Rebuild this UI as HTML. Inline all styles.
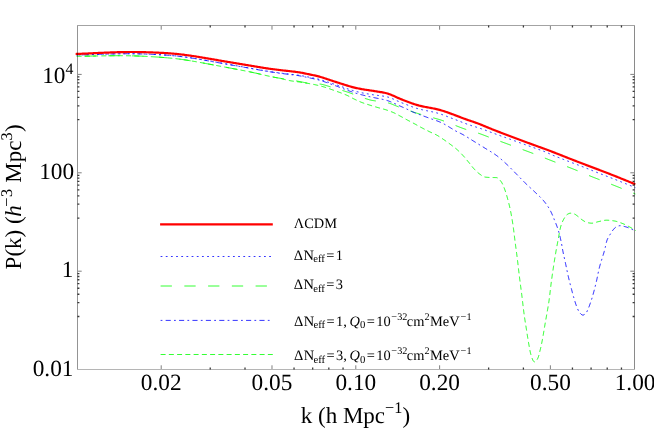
<!DOCTYPE html>
<html><head><meta charset="utf-8"><title>P(k)</title>
<style>
html,body{margin:0;padding:0;background:#fff;}
svg{display:block;font-family:"Liberation Serif",serif;will-change:transform;text-rendering:geometricPrecision;}
text{fill:#000;}
.tl{font-size:23.3px;}
.lg{font-size:14.4px;}
</style></head><body>
<svg width="654" height="429" viewBox="0 0 654 429">
<rect width="654" height="429" fill="#fff"/>
<defs><clipPath id="c"><rect x="75.3" y="25.5" width="560.4" height="344.0"/></clipPath></defs>
<g fill="none" clip-path="url(#c)">
<path d="M75.50,55.05L76.50,55.03L77.50,55.00L78.50,54.98L79.50,54.95L80.50,54.92L81.50,54.90L82.50,54.87L83.50,54.84L84.50,54.81L85.50,54.77L86.50,54.74L87.50,54.71L88.50,54.68L89.50,54.64L90.50,54.61L91.50,54.57L92.50,54.54L93.50,54.51L94.50,54.47L95.50,54.44L96.50,54.40L97.50,54.37L98.50,54.33L99.50,54.30L100.50,54.26L101.50,54.23L102.50,54.20L103.50,54.16L104.50,54.13L105.50,54.10L106.50,54.07L107.50,54.04L108.50,54.01L109.50,53.98L110.50,53.96L111.50,53.93L112.50,53.90L113.50,53.88L114.50,53.86L115.50,53.83L116.50,53.81L117.50,53.80L118.50,53.78L119.50,53.76L120.50,53.75L121.50,53.73L122.50,53.72L123.50,53.71L124.50,53.71L125.50,53.70L126.50,53.70L127.50,53.69L128.50,53.69L129.50,53.70L130.50,53.70L131.50,53.71L132.50,53.72L133.50,53.73L134.50,53.74L135.50,53.76L136.50,53.77L137.50,53.79L138.50,53.82L139.50,53.84L140.50,53.87L141.50,53.90L142.50,53.92L143.50,53.96L144.50,53.99L145.50,54.02L146.50,54.06L147.50,54.10L148.50,54.14L149.50,54.18L150.50,54.22L151.50,54.26L152.50,54.31L153.50,54.35L154.50,54.40L155.50,54.45L156.50,54.50L157.50,54.55L158.50,54.60L159.50,54.66L160.50,54.71L161.50,54.77L162.50,54.83L163.50,54.90L164.50,54.96L165.50,55.03L166.50,55.10L167.50,55.17L168.50,55.25L169.50,55.33L170.50,55.41L171.50,55.49L172.50,55.57L173.50,55.66L174.50,55.76L175.50,55.85L176.50,55.95L177.50,56.06L178.50,56.17L179.50,56.28L180.50,56.40L181.50,56.52L182.50,56.64L183.50,56.77L184.50,56.91L185.50,57.04L186.50,57.18L187.50,57.33L188.50,57.47L189.50,57.62L190.50,57.78L191.50,57.93L192.50,58.09L193.50,58.25L194.50,58.41L195.50,58.57L196.50,58.73L197.50,58.90L198.50,59.07L199.50,59.23L200.50,59.40L201.50,59.58L202.50,59.75L203.50,59.92L204.50,60.10L205.50,60.27L206.50,60.45L207.50,60.62L208.50,60.80L209.50,60.97L210.50,61.15L211.50,61.33L212.50,61.51L213.50,61.68L214.50,61.86L215.50,62.04L216.50,62.22L217.50,62.39L218.50,62.57L219.50,62.75L220.50,62.93L221.50,63.10L222.50,63.28L223.50,63.46L224.50,63.64L225.50,63.81L226.50,63.99L227.50,64.16L228.50,64.34L229.50,64.52L230.50,64.69L231.50,64.87L232.50,65.04L233.50,65.21L234.50,65.39L235.50,65.56L236.50,65.74L237.50,65.91L238.50,66.08L239.50,66.26L240.50,66.43L241.50,66.61L242.50,66.78L243.50,66.96L244.50,67.13L245.50,67.31L246.50,67.48L247.50,67.66L248.50,67.83L249.50,68.01L250.50,68.19L251.50,68.37L252.50,68.55L253.50,68.73L254.50,68.91L255.50,69.09L256.50,69.27L257.50,69.45L258.50,69.63L259.50,69.81L260.50,69.99L261.50,70.16L262.50,70.34L263.50,70.52L264.50,70.69L265.50,70.86L266.50,71.03L267.50,71.19L268.50,71.35L269.50,71.51L270.50,71.67L271.50,71.83L272.50,71.98L273.50,72.12L274.50,72.27L275.50,72.41L276.50,72.55L277.50,72.69L278.50,72.82L279.50,72.95L280.50,73.08L281.50,73.21L282.50,73.33L283.50,73.46L284.50,73.57L285.50,73.69L286.50,73.81L287.50,73.92L288.50,74.03L289.50,74.14L290.50,74.24L291.50,74.35L292.50,74.46L293.50,74.58L294.50,74.70L295.50,74.82L296.50,74.95L297.50,75.08L298.50,75.23L299.50,75.38L300.50,75.54L301.50,75.71L302.50,75.89L303.50,76.08L304.50,76.27L305.50,76.46L306.50,76.66L307.50,76.86L308.50,77.07L309.50,77.27L310.50,77.46L311.50,77.66L312.50,77.86L313.50,78.06L314.50,78.26L315.50,78.48L316.50,78.70L317.50,78.93L318.50,79.18L319.50,79.45L320.50,79.72L321.50,80.02L322.50,80.32L323.50,80.64L324.50,80.96L325.50,81.29L326.50,81.62L327.50,81.96L328.50,82.29L329.50,82.62L330.50,82.94L331.50,83.27L332.50,83.59L333.50,83.91L334.50,84.23L335.50,84.55L336.50,84.88L337.50,85.21L338.50,85.55L339.50,85.90L340.50,86.25L341.50,86.61L342.50,86.96L343.50,87.32L344.50,87.68L345.50,88.04L346.50,88.40L347.50,88.75L348.50,89.10L349.50,89.44L350.50,89.78L351.50,90.10L352.50,90.42L353.50,90.73L354.50,91.02L355.50,91.30L356.50,91.56L357.50,91.81L358.50,92.05L359.50,92.28L360.50,92.50L361.50,92.71L362.50,92.92L363.50,93.12L364.50,93.31L365.50,93.50L366.50,93.68L367.50,93.85L368.50,94.03L369.50,94.19L370.50,94.36L371.50,94.52L372.50,94.68L373.50,94.83L374.50,94.98L375.50,95.12L376.50,95.25L377.50,95.38L378.50,95.51L379.50,95.63L380.50,95.76L381.50,95.88L382.50,96.01L383.50,96.16L384.50,96.32L385.50,96.51L386.50,96.72L387.50,96.96L388.50,97.24L389.50,97.56L390.50,97.92L391.50,98.31L392.50,98.73L393.50,99.17L394.50,99.62L395.50,100.08L396.50,100.53L397.50,100.98L398.50,101.42L399.50,101.85L400.50,102.27L401.50,102.68L402.50,103.08L403.50,103.47L404.50,103.86L405.50,104.25L406.50,104.63L407.50,105.02L408.50,105.40L409.50,105.79L410.50,106.17L411.50,106.55L412.50,106.92L413.50,107.27L414.50,107.62L415.50,107.95L416.50,108.27L417.50,108.56L418.50,108.84L419.50,109.11L420.50,109.36L421.50,109.60L422.50,109.83L423.50,110.05L424.50,110.26L425.50,110.46L426.50,110.67L427.50,110.87L428.50,111.06L429.50,111.26L430.50,111.46L431.50,111.67L432.50,111.88L433.50,112.10L434.50,112.33L435.50,112.58L436.50,112.84L437.50,113.12L438.50,113.41L439.50,113.71L440.50,114.04L441.50,114.38L442.50,114.73L443.50,115.09L444.50,115.46L445.50,115.84L446.50,116.22L447.50,116.61L448.50,117.00L449.50,117.38L450.50,117.77L451.50,118.15L452.50,118.53L453.50,118.91L454.50,119.29L455.50,119.68L456.50,120.06L457.50,120.45L458.50,120.84L459.50,121.24L460.50,121.63L461.50,122.02L462.50,122.41L463.50,122.79L464.50,123.17L465.50,123.54L466.50,123.91L467.50,124.27L468.50,124.62L469.50,124.96L470.50,125.30L471.50,125.63L472.50,125.96L473.50,126.28L474.50,126.59L475.50,126.89L476.50,127.20L477.50,127.52L478.50,127.84L479.50,128.16L480.50,128.49L481.50,128.83L482.50,129.17L483.50,129.52L484.50,129.88L485.50,130.24L486.50,130.61L487.50,130.98L488.50,131.37L489.50,131.75L490.50,132.13L491.50,132.51L492.50,132.88L493.50,133.25L494.50,133.62L495.50,133.98L496.50,134.35L497.50,134.71L498.50,135.07L499.50,135.43L500.50,135.79L501.50,136.15L502.50,136.50L503.50,136.86L504.50,137.22L505.50,137.57L506.50,137.93L507.50,138.28L508.50,138.64L509.50,139.00L510.50,139.36L511.50,139.72L512.50,140.08L513.50,140.44L514.50,140.80L515.50,141.16L516.50,141.53L517.50,141.89L518.50,142.25L519.50,142.61L520.50,142.97L521.50,143.34L522.50,143.70L523.50,144.06L524.50,144.42L525.50,144.77L526.50,145.13L527.50,145.48L528.50,145.84L529.50,146.19L530.50,146.55L531.50,146.90L532.50,147.25L533.50,147.60L534.50,147.96L535.50,148.31L536.50,148.66L537.50,149.02L538.50,149.37L539.50,149.73L540.50,150.09L541.50,150.45L542.50,150.81L543.50,151.18L544.50,151.55L545.50,151.95L546.50,152.38L547.50,152.83L548.50,153.29L549.50,153.76L550.50,154.22L551.50,154.68L552.50,155.12L553.50,155.54L554.50,155.93L555.50,156.32L556.50,156.71L557.50,157.10L558.50,157.49L559.50,157.88L560.50,158.27L561.50,158.66L562.50,159.05L563.50,159.43L564.50,159.82L565.50,160.21L566.50,160.59L567.50,160.98L568.50,161.36L569.50,161.74L570.50,162.12L571.50,162.51L572.50,162.89L573.50,163.26L574.50,163.64L575.50,164.02L576.50,164.40L577.50,164.78L578.50,165.16L579.50,165.54L580.50,165.91L581.50,166.29L582.50,166.67L583.50,167.06L584.50,167.44L585.50,167.83L586.50,168.23L587.50,168.63L588.50,169.03L589.50,169.43L590.50,169.84L591.50,170.24L592.50,170.65L593.50,171.05L594.50,171.45L595.50,171.85L596.50,172.25L597.50,172.65L598.50,173.04L599.50,173.43L600.50,173.81L601.50,174.19L602.50,174.57L603.50,174.96L604.50,175.34L605.50,175.72L606.50,176.11L607.50,176.50L608.50,176.89L609.50,177.28L610.50,177.67L611.50,178.06L612.50,178.45L613.50,178.85L614.50,179.24L615.50,179.64L616.50,180.03L617.50,180.43L618.50,180.83L619.50,181.23L620.50,181.63L621.50,182.03L622.50,182.43L623.50,182.83L624.50,183.23L625.50,183.63L626.50,184.03L627.50,184.44L628.50,184.84L629.50,185.24L630.50,185.64L631.50,186.04L632.50,186.45L633.50,186.85L634.50,187.25L635.50,187.65" stroke="#0000ff" stroke-width="0.88" stroke-dasharray="1.8 3.37" stroke-dashoffset="4.27"/>
<path d="M75.50,56.30L76.50,56.29L77.50,56.28L78.50,56.27L79.50,56.26L80.50,56.25L81.50,56.24L82.50,56.23L83.50,56.21L84.50,56.20L85.50,56.18L86.50,56.16L87.50,56.15L88.50,56.13L89.50,56.11L90.50,56.09L91.50,56.08L92.50,56.06L93.50,56.04L94.50,56.02L95.50,56.00L96.50,55.98L97.50,55.96L98.50,55.94L99.50,55.92L100.50,55.91L101.50,55.89L102.50,55.87L103.50,55.85L104.50,55.84L105.50,55.82L106.50,55.80L107.50,55.79L108.50,55.78L109.50,55.76L110.50,55.75L111.50,55.74L112.50,55.73L113.50,55.72L114.50,55.71L115.50,55.71L116.50,55.70L117.50,55.70L118.50,55.70L119.50,55.70L120.50,55.70L121.50,55.70L122.50,55.71L123.50,55.71L124.50,55.72L125.50,55.73L126.50,55.74L127.50,55.76L128.50,55.77L129.50,55.79L130.50,55.81L131.50,55.83L132.50,55.86L133.50,55.88L134.50,55.91L135.50,55.94L136.50,55.98L137.50,56.01L138.50,56.05L139.50,56.09L140.50,56.13L141.50,56.17L142.50,56.22L143.50,56.27L144.50,56.32L145.50,56.37L146.50,56.42L147.50,56.47L148.50,56.52L149.50,56.58L150.50,56.64L151.50,56.69L152.50,56.75L153.50,56.81L154.50,56.88L155.50,56.94L156.50,57.01L157.50,57.07L158.50,57.14L159.50,57.21L160.50,57.28L161.50,57.36L162.50,57.43L163.50,57.51L164.50,57.59L165.50,57.68L166.50,57.76L167.50,57.85L168.50,57.94L169.50,58.03L170.50,58.12L171.50,58.22L172.50,58.32L173.50,58.43L174.50,58.53L175.50,58.64L176.50,58.76L177.50,58.88L178.50,59.00L179.50,59.13L180.50,59.26L181.50,59.40L182.50,59.54L183.50,59.68L184.50,59.83L185.50,59.98L186.50,60.13L187.50,60.29L188.50,60.45L189.50,60.62L190.50,60.78L191.50,60.95L192.50,61.12L193.50,61.29L194.50,61.47L195.50,61.64L196.50,61.82L197.50,62.00L198.50,62.17L199.50,62.35L200.50,62.53L201.50,62.72L202.50,62.90L203.50,63.08L204.50,63.27L205.50,63.45L206.50,63.64L207.50,63.82L208.50,64.01L209.50,64.20L210.50,64.38L211.50,64.57L212.50,64.76L213.50,64.95L214.50,65.13L215.50,65.32L216.50,65.51L217.50,65.70L218.50,65.88L219.50,66.07L220.50,66.26L221.50,66.45L222.50,66.64L223.50,66.82L224.50,67.01L225.50,67.20L226.50,67.39L227.50,67.58L228.50,67.77L229.50,67.95L230.50,68.14L231.50,68.33L232.50,68.52L233.50,68.71L234.50,68.90L235.50,69.08L236.50,69.27L237.50,69.46L238.50,69.66L239.50,69.85L240.50,70.04L241.50,70.23L242.50,70.42L243.50,70.62L244.50,70.81L245.50,71.01L246.50,71.20L247.50,71.40L248.50,71.60L249.50,71.80L250.50,72.00L251.50,72.21L252.50,72.42L253.50,72.64L254.50,72.86L255.50,73.08L256.50,73.31L257.50,73.54L258.50,73.77L259.50,74.00L260.50,74.23L261.50,74.47L262.50,74.70L263.50,74.94L264.50,75.17L265.50,75.40L266.50,75.63L267.50,75.85L268.50,76.07L269.50,76.29L270.50,76.50L271.50,76.71L272.50,76.92L273.50,77.11L274.50,77.31L275.50,77.50L276.50,77.68L277.50,77.86L278.50,78.03L279.50,78.20L280.50,78.37L281.50,78.53L282.50,78.70L283.50,78.87L284.50,79.03L285.50,79.20L286.50,79.36L287.50,79.52L288.50,79.68L289.50,79.83L290.50,79.99L291.50,80.15L292.50,80.31L293.50,80.47L294.50,80.64L295.50,80.81L296.50,80.98L297.50,81.15L298.50,81.33L299.50,81.52L300.50,81.72L301.50,81.92L302.50,82.12L303.50,82.33L304.50,82.54L305.50,82.75L306.50,82.96L307.50,83.13L308.50,83.28L309.50,83.39L310.50,83.48L311.50,83.54L312.50,83.59L313.50,83.63L314.50,83.66L315.50,83.70L316.50,83.74L317.50,83.80L318.50,83.88L319.50,83.98L320.50,84.12L321.50,84.29L322.50,84.50L323.50,84.74L324.50,85.02L325.50,85.32L326.50,85.63L327.50,85.94L328.50,86.25L329.50,86.56L330.50,86.86L331.50,87.16L332.50,87.46L333.50,87.76L334.50,88.06L335.50,88.36L336.50,88.67L337.50,88.97L338.50,89.28L339.50,89.58L340.50,89.89L341.50,90.21L342.50,90.52L343.50,90.83L344.50,91.14L345.50,91.45L346.50,91.76L347.50,92.06L348.50,92.39L349.50,92.74L350.50,93.11L351.50,93.49L352.50,93.88L353.50,94.28L354.50,94.68L355.50,95.08L356.50,95.48L357.50,95.87L358.50,96.26L359.50,96.63L360.50,97.00L361.50,97.35L362.50,97.68L363.50,98.00L364.50,98.30L365.50,98.59L366.50,98.89L367.50,99.20L368.50,99.51L369.50,99.80L370.50,100.07L371.50,100.30L372.50,100.48L373.50,100.63L374.50,100.77L375.50,100.91L376.50,101.05L377.50,101.18L378.50,101.31L379.50,101.43L380.50,101.56L381.50,101.68L382.50,101.82L383.50,101.96L384.50,102.12L385.50,102.30L386.50,102.51L387.50,102.74L388.50,103.00L389.50,103.31L390.50,103.64L391.50,104.01L392.50,104.39L393.50,104.80L394.50,105.21L395.50,105.63L396.50,106.04L397.50,106.45L398.50,106.85L399.50,107.23L400.50,107.60L401.50,107.96L402.50,108.31L403.50,108.66L404.50,109.01L405.50,109.35L406.50,109.69L407.50,110.04L408.50,110.38L409.50,110.73L410.50,111.08L411.50,111.43L412.50,111.77L413.50,112.11L414.50,112.44L415.50,112.76L416.50,113.07L417.50,113.38L418.50,113.68L419.50,113.98L420.50,114.27L421.50,114.56L422.50,114.84L423.50,115.13L424.50,115.41L425.50,115.68L426.50,115.96L427.50,116.24L428.50,116.51L429.50,116.78L430.50,117.06L431.50,117.33L432.50,117.61L433.50,117.88L434.50,118.16L435.50,118.44L436.50,118.72L437.50,119.01L438.50,119.29L439.50,119.59L440.50,119.90L441.50,120.23L442.50,120.57L443.50,120.92L444.50,121.28L445.50,121.64L446.50,122.02L447.50,122.40L448.50,122.78L449.50,123.17L450.50,123.56L451.50,123.95L452.50,124.34L453.50,124.73L454.50,125.12L455.50,125.51L456.50,125.90L457.50,126.30L458.50,126.69L459.50,127.08L460.50,127.46L461.50,127.84L462.50,128.21L463.50,128.58L464.50,128.93L465.50,129.27L466.50,129.60L467.50,129.92L468.50,130.23L469.50,130.52L470.50,130.82L471.50,131.11L472.50,131.39L473.50,131.68L474.50,131.98L475.50,132.28L476.50,132.59L477.50,132.91L478.50,133.24L479.50,133.59L480.50,133.94L481.50,134.31L482.50,134.68L483.50,135.06L484.50,135.44L485.50,135.82L486.50,136.21L487.50,136.59L488.50,136.98L489.50,137.36L490.50,137.73L491.50,138.11L492.50,138.48L493.50,138.85L494.50,139.22L495.50,139.59L496.50,139.95L497.50,140.31L498.50,140.68L499.50,141.04L500.50,141.40L501.50,141.77L502.50,142.13L503.50,142.49L504.50,142.86L505.50,143.23L506.50,143.60L507.50,143.97L508.50,144.34L509.50,144.71L510.50,145.08L511.50,145.45L512.50,145.82L513.50,146.19L514.50,146.57L515.50,146.94L516.50,147.31L517.50,147.68L518.50,148.05L519.50,148.42L520.50,148.79L521.50,149.16L522.50,149.53L523.50,149.90L524.50,150.27L525.50,150.64L526.50,151.01L527.50,151.37L528.50,151.74L529.50,152.11L530.50,152.48L531.50,152.86L532.50,153.24L533.50,153.62L534.50,154.01L535.50,154.39L536.50,154.78L537.50,155.17L538.50,155.56L539.50,155.95L540.50,156.34L541.50,156.74L542.50,157.13L543.50,157.53L544.50,157.92L545.50,158.32L546.50,158.71L547.50,159.10L548.50,159.50L549.50,159.89L550.50,160.28L551.50,160.67L552.50,161.06L553.50,161.44L554.50,161.83L555.50,162.21L556.50,162.59L557.50,162.98L558.50,163.36L559.50,163.74L560.50,164.12L561.50,164.50L562.50,164.89L563.50,165.27L564.50,165.65L565.50,166.03L566.50,166.41L567.50,166.80L568.50,167.18L569.50,167.57L570.50,167.95L571.50,168.34L572.50,168.73L573.50,169.12L574.50,169.52L575.50,169.92L576.50,170.32L577.50,170.73L578.50,171.15L579.50,171.56L580.50,171.98L581.50,172.40L582.50,172.82L583.50,173.24L584.50,173.66L585.50,174.07L586.50,174.49L587.50,174.91L588.50,175.32L589.50,175.73L590.50,176.14L591.50,176.54L592.50,176.94L593.50,177.34L594.50,177.73L595.50,178.11L596.50,178.50L597.50,178.89L598.50,179.27L599.50,179.66L600.50,180.05L601.50,180.44L602.50,180.83L603.50,181.22L604.50,181.61L605.50,182.00L606.50,182.39L607.50,182.78L608.50,183.17L609.50,183.57L610.50,183.96L611.50,184.36L612.50,184.75L613.50,185.15L614.50,185.55L615.50,185.95L616.50,186.34L617.50,186.74L618.50,187.14L619.50,187.54L620.50,187.95L621.50,188.35L622.50,188.75L623.50,189.16L624.50,189.56L625.50,189.97L626.50,190.37L627.50,190.78L628.50,191.19L629.50,191.60L630.50,192.00L631.50,192.41L632.50,192.82L633.50,193.23L634.50,193.64L635.50,194.05" stroke="#00ff00" stroke-width="0.88" stroke-dasharray="11.3 12.45" stroke-dashoffset="14.65"/>
<path d="M75.50,55.05L76.33,55.03L77.16,55.01L77.98,54.99L78.81,54.97L79.64,54.95L80.47,54.93L81.30,54.91L82.12,54.88L82.95,54.86L83.78,54.84L84.61,54.81L85.44,54.78L86.26,54.76L87.09,54.73L87.92,54.71L88.75,54.68L89.58,54.65L90.40,54.63L91.23,54.60L92.06,54.57L92.89,54.54L93.72,54.51L94.54,54.49L95.37,54.46L96.20,54.43L97.03,54.40L97.86,54.38L98.68,54.35L99.51,54.32L100.34,54.29L101.17,54.27L101.99,54.24L102.82,54.21L103.65,54.19L104.48,54.16L105.31,54.13L106.13,54.11L106.96,54.09L107.79,54.06L108.62,54.04L109.45,54.02L110.27,53.99L111.10,53.97L111.93,53.95L112.76,53.93L113.59,53.91L114.41,53.89L115.24,53.88L116.07,53.86L116.90,53.84L117.73,53.83L118.56,53.82L119.38,53.80L120.21,53.79L121.04,53.78L121.87,53.77L122.70,53.77L123.53,53.76L124.35,53.75L125.18,53.75L126.01,53.75L126.84,53.74L127.67,53.74L128.50,53.74L129.32,53.75L130.15,53.75L130.98,53.76L131.81,53.76L132.64,53.77L133.47,53.78L134.29,53.79L135.12,53.80L135.95,53.82L136.78,53.84L137.61,53.85L138.43,53.87L139.26,53.89L140.09,53.91L140.92,53.94L141.75,53.96L142.57,53.99L143.40,54.01L144.23,54.04L145.06,54.07L145.89,54.10L146.71,54.13L147.54,54.16L148.37,54.20L149.20,54.23L150.02,54.26L150.85,54.30L151.68,54.34L152.51,54.37L153.34,54.41L154.16,54.45L154.99,54.49L155.82,54.53L156.64,54.57L157.47,54.62L158.30,54.66L159.13,54.71L159.95,54.76L160.78,54.80L161.61,54.85L162.43,54.91L163.26,54.96L164.09,55.01L164.91,55.07L165.74,55.12L166.57,55.18L167.39,55.24L168.22,55.31L169.04,55.37L169.87,55.43L170.70,55.50L171.52,55.57L172.35,55.64L173.17,55.72L174.00,55.79L174.82,55.87L175.64,55.95L176.47,56.04L177.29,56.12L178.12,56.21L178.94,56.30L179.76,56.40L180.59,56.49L181.41,56.60L182.23,56.70L183.05,56.81L183.87,56.92L184.69,57.03L185.51,57.14L186.33,57.26L187.15,57.37L187.97,57.49L188.79,57.62L189.61,57.74L190.43,57.87L191.25,57.99L192.07,58.12L192.88,58.25L193.70,58.38L194.52,58.52L195.34,58.65L196.16,58.78L196.97,58.92L197.79,59.06L198.61,59.20L199.42,59.33L200.24,59.47L201.06,59.61L201.87,59.76L202.69,59.90L203.50,60.04L204.32,60.18L205.14,60.33L205.95,60.47L206.77,60.61L207.58,60.76L208.40,60.90L209.21,61.05L210.03,61.20L210.84,61.34L211.66,61.49L212.48,61.63L213.29,61.78L214.11,61.92L214.92,62.07L215.74,62.22L216.55,62.36L217.37,62.51L218.18,62.66L219.00,62.80L219.81,62.95L220.63,63.09L221.44,63.24L222.26,63.39L223.08,63.53L223.89,63.68L224.71,63.82L225.52,63.97L226.34,64.11L227.15,64.26L227.97,64.40L228.78,64.55L229.60,64.69L230.42,64.84L231.23,64.98L232.05,65.13L232.86,65.27L233.68,65.41L234.49,65.56L235.31,65.70L236.13,65.84L236.94,65.99L237.76,66.13L238.57,66.28L239.39,66.42L240.20,66.56L241.02,66.71L241.84,66.85L242.65,66.99L243.47,67.14L244.28,67.28L245.10,67.43L245.91,67.57L246.73,67.72L247.55,67.86L248.36,68.01L249.18,68.15L249.99,68.30L250.81,68.45L251.62,68.59L252.44,68.74L253.25,68.89L254.07,69.03L254.88,69.18L255.70,69.33L256.51,69.48L257.33,69.62L258.14,69.77L258.96,69.92L259.77,70.06L260.59,70.21L261.41,70.35L262.22,70.50L263.04,70.64L263.85,70.78L264.67,70.92L265.49,71.06L266.30,71.20L267.12,71.33L267.94,71.47L268.76,71.60L269.57,71.73L270.39,71.86L271.21,71.98L272.03,72.11L272.85,72.23L273.67,72.35L274.49,72.47L275.31,72.59L276.13,72.71L276.95,72.82L277.77,72.94L278.59,73.05L279.41,73.16L280.23,73.27L281.05,73.38L281.87,73.49L282.69,73.59L283.52,73.70L284.34,73.80L285.16,73.90L285.98,74.00L286.81,74.10L287.63,74.20L288.45,74.30L289.27,74.40L290.09,74.50L290.92,74.60L291.74,74.70L292.56,74.80L293.38,74.91L294.20,75.02L295.02,75.13L295.84,75.25L296.66,75.37L297.48,75.49L298.30,75.62L299.12,75.76L299.93,75.90L300.75,76.05L301.56,76.20L302.38,76.37L303.19,76.53L304.00,76.70L304.81,76.87L305.62,77.04L306.43,77.21L307.24,77.39L308.05,77.57L308.86,77.75L309.67,77.93L310.48,78.10L311.29,78.27L312.10,78.44L312.91,78.61L313.72,78.79L314.52,78.97L315.33,79.16L316.14,79.35L316.94,79.55L317.75,79.75L318.55,79.96L319.35,80.17L320.14,80.40L320.94,80.64L321.73,80.88L322.51,81.14L323.30,81.40L324.09,81.67L324.87,81.94L325.65,82.21L326.43,82.49L327.21,82.77L327.99,83.05L328.77,83.33L329.55,83.62L330.33,83.90L331.11,84.18L331.89,84.46L332.67,84.74L333.44,85.02L334.22,85.30L335.00,85.58L335.78,85.87L336.56,86.15L337.34,86.44L338.11,86.72L338.89,87.01L339.67,87.30L340.44,87.59L341.22,87.88L341.99,88.18L342.76,88.48L343.54,88.78L344.31,89.08L345.08,89.38L345.85,89.68L346.63,89.97L347.40,90.26L348.18,90.55L348.95,90.84L349.73,91.13L350.51,91.41L351.29,91.68L352.08,91.95L352.86,92.22L353.65,92.48L354.43,92.74L355.22,92.99L356.01,93.24L356.81,93.48L357.60,93.71L358.40,93.93L359.20,94.15L360.00,94.37L360.80,94.58L361.60,94.78L362.41,94.98L363.21,95.18L364.02,95.37L364.82,95.56L365.63,95.75L366.44,95.93L367.24,96.12L368.05,96.31L368.86,96.49L369.67,96.68L370.47,96.86L371.28,97.04L372.09,97.22L372.90,97.39L373.71,97.56L374.52,97.73L375.33,97.90L376.15,98.07L376.96,98.23L377.77,98.39L378.58,98.55L379.40,98.71L380.21,98.86L381.02,99.03L381.83,99.19L382.64,99.37L383.45,99.56L384.26,99.75L385.06,99.95L385.87,100.16L386.66,100.38L387.46,100.62L388.24,100.87L389.02,101.15L389.79,101.45L390.56,101.77L391.32,102.09L392.09,102.42L392.85,102.74L393.61,103.08L394.36,103.42L395.11,103.78L395.86,104.13L396.60,104.49L397.35,104.84L398.11,105.19L398.86,105.52L399.62,105.86L400.38,106.19L401.14,106.52L401.90,106.85L402.66,107.19L403.41,107.53L404.17,107.87L404.92,108.21L405.67,108.56L406.43,108.90L407.18,109.25L407.93,109.60L408.68,109.95L409.42,110.32L410.17,110.68L410.91,111.05L411.66,111.41L412.40,111.77L413.16,112.11L413.92,112.44L414.68,112.75L415.45,113.06L416.22,113.37L416.99,113.66L417.76,113.96L418.54,114.24L419.32,114.53L420.10,114.81L420.88,115.09L421.66,115.37L422.44,115.65L423.22,115.93L424.00,116.21L424.78,116.49L425.56,116.78L426.34,117.06L427.12,117.35L427.89,117.64L428.67,117.92L429.45,118.21L430.23,118.49L431.00,118.78L431.78,119.06L432.56,119.34L433.35,119.61L434.13,119.87L434.92,120.14L435.70,120.41L436.49,120.68L437.26,120.96L438.04,121.26L438.80,121.56L439.56,121.89L440.32,122.22L441.08,122.56L441.83,122.91L442.58,123.28L443.32,123.65L444.06,124.02L444.79,124.41L445.51,124.81L446.23,125.22L446.94,125.64L447.65,126.08L448.35,126.51L449.06,126.95L449.77,127.38L450.48,127.81L451.19,128.24L451.89,128.68L452.59,129.11L453.30,129.55L454.00,129.99L454.71,130.41L455.43,130.83L456.15,131.23L456.89,131.61L457.63,131.98L458.38,132.34L459.13,132.69L459.88,133.04L460.63,133.40L461.37,133.77L462.10,134.16L462.82,134.56L463.54,134.96L464.26,135.38L464.97,135.80L465.68,136.22L466.39,136.65L467.10,137.08L467.80,137.52L468.50,137.96L469.21,138.40L469.91,138.84L470.61,139.29L471.31,139.73L472.01,140.17L472.72,140.61L473.42,141.04L474.13,141.48L474.83,141.91L475.54,142.34L476.25,142.77L476.95,143.21L477.66,143.64L478.37,144.07L479.07,144.51L479.78,144.94L480.48,145.37L481.19,145.81L481.89,146.25L482.60,146.68L483.30,147.12L484.01,147.55L484.71,147.99L485.41,148.43L486.12,148.87L486.82,149.30L487.54,149.73L488.25,150.16L488.96,150.59L489.67,151.02L490.38,151.45L491.09,151.88L491.80,152.32L492.50,152.76L493.20,153.20L493.89,153.66L494.58,154.11L495.26,154.58L495.93,155.06L496.59,155.54L497.25,156.04L497.90,156.54L498.55,157.06L499.19,157.58L499.83,158.11L500.46,158.64L501.09,159.19L501.71,159.73L502.33,160.29L502.95,160.84L503.57,161.40L504.18,161.96L504.79,162.53L505.40,163.09L506.01,163.65L506.62,164.22L507.22,164.78L507.82,165.35L508.41,165.93L509.01,166.50L509.60,167.09L510.18,167.67L510.77,168.26L511.35,168.85L511.93,169.44L512.51,170.03L513.09,170.63L513.67,171.22L514.25,171.81L514.83,172.41L515.41,173.00L515.99,173.59L516.57,174.18L517.15,174.77L517.73,175.36L518.30,175.96L518.88,176.56L519.45,177.15L520.03,177.75L520.60,178.35L521.18,178.94L521.76,179.54L522.33,180.13L522.91,180.72L523.50,181.31L524.08,181.90L524.67,182.48L525.26,183.06L525.85,183.64L526.45,184.21L527.06,184.77L527.66,185.34L528.27,185.90L528.88,186.46L529.49,187.02L530.10,187.58L530.72,188.14L531.33,188.70L531.94,189.26L532.54,189.82L533.15,190.39L533.75,190.96L534.35,191.53L534.95,192.10L535.56,192.67L536.17,193.24L536.78,193.80L537.39,194.37L538.00,194.94L538.60,195.51L539.21,196.08L539.80,196.66L540.39,197.24L540.98,197.83L541.55,198.43L542.11,199.03L542.66,199.64L543.20,200.26L543.72,200.89L544.24,201.53L544.76,202.18L545.27,202.83L545.77,203.49L546.27,204.16L546.76,204.84L547.24,205.53L547.71,206.22L548.17,206.91L548.61,207.61L549.05,208.32L549.46,209.03L549.87,209.74L550.26,210.46L550.63,211.19L551.00,211.93L551.36,212.68L551.71,213.43L552.05,214.19L552.38,214.95L552.70,215.71L553.03,216.48L553.34,217.25L553.66,218.02L553.97,218.79L554.28,219.56L554.59,220.33L554.91,221.10L555.22,221.87L555.53,222.64L555.84,223.41L556.14,224.18L556.44,224.95L556.74,225.73L557.02,226.51L557.31,227.29L557.58,228.07L557.84,228.85L558.10,229.64L558.34,230.43L558.57,231.22L558.80,232.01L559.02,232.81L559.24,233.61L559.45,234.41L559.66,235.22L559.86,236.02L560.05,236.83L560.25,237.63L560.43,238.44L560.62,239.25L560.80,240.06L560.97,240.87L561.14,241.68L561.31,242.49L561.46,243.30L561.61,244.12L561.76,244.93L561.91,245.75L562.05,246.56L562.19,247.38L562.34,248.20L562.49,249.01L562.64,249.83L562.79,250.64L562.95,251.45L563.12,252.27L563.28,253.08L563.45,253.89L563.62,254.70L563.80,255.51L563.97,256.32L564.15,257.13L564.33,257.94L564.51,258.75L564.68,259.55L564.86,260.36L565.04,261.17L565.22,261.98L565.40,262.79L565.57,263.60L565.74,264.41L565.92,265.22L566.09,266.03L566.26,266.84L566.43,267.65L566.60,268.46L566.76,269.28L566.93,270.09L567.10,270.90L567.27,271.71L567.44,272.52L567.62,273.33L567.79,274.14L567.97,274.95L568.15,275.76L568.33,276.56L568.52,277.37L568.71,278.18L568.90,278.98L569.09,279.79L569.29,280.59L569.49,281.40L569.69,282.20L569.90,283.00L570.10,283.80L570.31,284.61L570.52,285.41L570.73,286.21L570.94,287.01L571.15,287.81L571.36,288.61L571.57,289.42L571.77,290.22L571.98,291.02L572.19,291.82L572.40,292.62L572.62,293.42L572.83,294.22L573.05,295.02L573.27,295.82L573.49,296.62L573.72,297.42L573.95,298.21L574.19,299.00L574.43,299.80L574.67,300.59L574.91,301.39L575.16,302.18L575.41,302.97L575.67,303.76L575.94,304.54L576.22,305.32L576.51,306.10L576.81,306.87L577.12,307.63L577.43,308.42L577.76,309.21L578.10,310.00L578.47,310.76L578.87,311.49L579.30,312.17L579.77,312.78L580.33,313.42L580.98,314.08L581.69,314.65L582.41,315.02L583.12,315.08L583.89,314.83L584.67,314.36L585.36,313.82L585.89,313.29L586.35,312.66L586.76,311.94L587.13,311.16L587.48,310.36L587.82,309.56L588.15,308.79L588.48,308.03L588.80,307.27L589.11,306.50L589.40,305.73L589.70,304.95L589.98,304.17L590.25,303.38L590.53,302.60L590.79,301.81L591.06,301.03L591.32,300.24L591.57,299.46L591.82,298.67L592.06,297.87L592.30,297.08L592.54,296.29L592.77,295.49L593.00,294.69L593.23,293.90L593.45,293.10L593.67,292.30L593.89,291.50L594.10,290.70L594.32,289.90L594.53,289.10L594.73,288.30L594.94,287.50L595.14,286.69L595.34,285.89L595.53,285.08L595.73,284.28L595.92,283.47L596.11,282.66L596.30,281.86L596.49,281.05L596.67,280.24L596.85,279.44L597.02,278.62L597.19,277.81L597.36,277.00L597.52,276.19L597.69,275.38L597.85,274.56L598.02,273.75L598.18,272.94L598.35,272.13L598.52,271.32L598.70,270.51L598.88,269.70L599.06,268.89L599.25,268.09L599.45,267.29L599.66,266.49L599.88,265.69L600.10,264.89L600.33,264.10L600.56,263.30L600.80,262.51L601.04,261.72L601.29,260.93L601.54,260.13L601.79,259.34L602.04,258.55L602.29,257.76L602.54,256.97L602.80,256.18L603.04,255.39L603.29,254.60L603.54,253.81L603.78,253.01L604.01,252.22L604.24,251.42L604.47,250.63L604.69,249.83L604.90,249.03L605.09,248.22L605.28,247.41L605.45,246.59L605.62,245.77L605.79,244.95L605.97,244.13L606.15,243.32L606.35,242.52L606.56,241.73L606.79,240.94L607.04,240.18L607.34,239.42L607.67,238.67L608.04,237.93L608.44,237.20L608.86,236.48L609.29,235.76L609.74,235.05L610.19,234.34L610.63,233.63L611.07,232.93L611.50,232.22L611.95,231.52L612.41,230.82L612.90,230.15L613.41,229.51L613.95,228.88L614.53,228.25L615.15,227.67L615.80,227.18L616.49,226.80L617.24,226.43L618.04,226.10L618.85,225.85L619.67,225.71L620.47,225.71L621.28,225.80L622.10,225.94L622.92,226.12L623.74,226.32L624.55,226.54L625.36,226.74L626.15,226.96L626.94,227.21L627.73,227.49L628.51,227.77L629.28,228.07L630.04,228.39L630.80,228.73L631.54,229.09L632.29,229.46L633.04,229.82L633.78,230.18L634.52,230.55L635.26,230.92L636.00,231.30" stroke="#0000ff" stroke-width="0.88" stroke-dasharray="1.8 3.25 5.1 3.25" stroke-dashoffset="10.3"/>
<path d="M75.50,56.30L76.22,56.29L76.95,56.29L77.67,56.28L78.39,56.27L79.12,56.27L79.84,56.26L80.56,56.25L81.29,56.24L82.01,56.23L82.73,56.22L83.46,56.21L84.18,56.20L84.91,56.19L85.63,56.18L86.35,56.17L87.08,56.16L87.80,56.14L88.52,56.13L89.25,56.12L89.97,56.10L90.69,56.09L91.42,56.08L92.14,56.06L92.86,56.05L93.59,56.04L94.31,56.02L95.03,56.01L95.76,55.99L96.48,55.98L97.20,55.97L97.93,55.95L98.65,55.94L99.37,55.93L100.10,55.91L100.82,55.90L101.54,55.89L102.27,55.87L102.99,55.86L103.71,55.85L104.44,55.84L105.16,55.83L105.88,55.81L106.61,55.80L107.33,55.79L108.05,55.78L108.78,55.77L109.50,55.76L110.23,55.75L110.95,55.75L111.67,55.74L112.40,55.73L113.12,55.73L113.84,55.72L114.57,55.71L115.29,55.71L116.01,55.70L116.74,55.70L117.46,55.70L118.18,55.70L118.91,55.70L119.63,55.70L120.35,55.70L121.08,55.70L121.80,55.71L122.52,55.71L123.25,55.71L123.97,55.71L124.70,55.72L125.42,55.73L126.14,55.74L126.87,55.75L127.59,55.76L128.31,55.77L129.04,55.78L129.76,55.79L130.48,55.81L131.21,55.82L131.93,55.84L132.65,55.86L133.38,55.88L134.10,55.90L134.82,55.92L135.55,55.94L136.27,55.97L136.99,55.99L137.72,56.02L138.44,56.05L139.16,56.08L139.88,56.11L140.61,56.14L141.33,56.17L142.05,56.20L142.78,56.23L143.50,56.27L144.22,56.30L144.94,56.34L145.67,56.37L146.39,56.41L147.11,56.45L147.83,56.49L148.56,56.53L149.28,56.57L150.00,56.61L150.72,56.65L151.45,56.69L152.17,56.73L152.89,56.78L153.61,56.82L154.33,56.87L155.06,56.91L155.78,56.96L156.50,57.01L157.22,57.05L157.94,57.10L158.67,57.15L159.39,57.20L160.11,57.26L160.83,57.31L161.55,57.36L162.27,57.42L163.00,57.47L163.72,57.53L164.44,57.59L165.16,57.65L165.88,57.71L166.60,57.77L167.32,57.83L168.04,57.90L168.76,57.96L169.48,58.03L170.20,58.10L170.92,58.16L171.64,58.24L172.36,58.31L173.08,58.38L173.80,58.46L174.52,58.54L175.24,58.62L175.96,58.70L176.68,58.78L177.40,58.87L178.12,58.95L178.83,59.04L179.55,59.14L180.27,59.23L180.99,59.33L181.70,59.43L182.42,59.53L183.14,59.63L183.85,59.73L184.57,59.84L185.28,59.94L186.00,60.06L186.71,60.17L187.43,60.28L188.14,60.40L188.86,60.51L189.57,60.63L190.28,60.75L191.00,60.87L191.71,60.99L192.42,61.11L193.14,61.23L193.85,61.35L194.56,61.48L195.28,61.60L195.99,61.73L196.70,61.85L197.41,61.98L198.13,62.11L198.84,62.23L199.55,62.36L200.26,62.49L200.97,62.62L201.69,62.75L202.40,62.88L203.11,63.01L203.82,63.14L204.53,63.27L205.24,63.41L205.96,63.54L206.67,63.67L207.38,63.80L208.09,63.93L208.80,64.07L209.51,64.20L210.22,64.33L210.93,64.46L211.65,64.60L212.36,64.73L213.07,64.86L213.78,65.00L214.49,65.13L215.20,65.26L215.91,65.40L216.62,65.53L217.33,65.67L218.05,65.80L218.76,65.93L219.47,66.07L220.18,66.20L220.89,66.33L221.60,66.47L222.31,66.60L223.02,66.74L223.73,66.87L224.45,67.00L225.16,67.14L225.87,67.27L226.58,67.40L227.29,67.54L228.00,67.67L228.71,67.81L229.42,67.94L230.13,68.07L230.85,68.21L231.56,68.34L232.27,68.47L232.98,68.61L233.69,68.74L234.40,68.88L235.11,69.01L235.82,69.15L236.53,69.28L237.24,69.42L237.95,69.55L238.66,69.69L239.38,69.82L240.09,69.96L240.80,70.09L241.51,70.23L242.22,70.37L242.93,70.51L243.64,70.64L244.35,70.78L245.06,70.92L245.77,71.06L246.48,71.20L247.19,71.34L247.90,71.48L248.61,71.62L249.32,71.76L250.03,71.91L250.73,72.05L251.44,72.20L252.15,72.35L252.86,72.50L253.57,72.66L254.27,72.81L254.98,72.96L255.69,73.12L256.39,73.28L257.10,73.44L257.80,73.60L258.51,73.77L259.21,73.93L259.92,74.10L260.62,74.26L261.32,74.43L262.03,74.59L262.73,74.76L263.44,74.92L264.14,75.08L264.85,75.25L265.55,75.41L266.26,75.57L266.96,75.73L267.67,75.89L268.38,76.04L269.08,76.20L269.79,76.35L270.50,76.50L271.21,76.65L271.92,76.80L272.63,76.94L273.33,77.08L274.05,77.22L274.76,77.35L275.47,77.47L276.18,77.60L276.90,77.72L277.61,77.84L278.32,77.97L279.03,78.10L279.74,78.25L280.45,78.40L281.15,78.56L281.86,78.73L282.56,78.91L283.26,79.09L283.96,79.27L284.66,79.45L285.37,79.64L286.07,79.82L286.77,79.99L287.47,80.16L288.18,80.31L288.89,80.46L289.59,80.60L290.30,80.72L291.02,80.84L291.73,80.96L292.44,81.07L293.16,81.17L293.88,81.27L294.59,81.37L295.31,81.47L296.03,81.57L296.75,81.66L297.47,81.76L298.18,81.85L298.90,81.95L299.62,82.05L300.34,82.15L301.05,82.25L301.77,82.36L302.48,82.48L303.20,82.59L303.91,82.70L304.63,82.82L305.34,82.94L306.05,83.05L306.77,83.17L307.48,83.29L308.20,83.41L308.91,83.54L309.62,83.66L310.33,83.79L311.05,83.92L311.76,84.06L312.47,84.19L313.18,84.33L313.88,84.48L314.59,84.62L315.30,84.77L316.01,84.93L316.71,85.09L317.42,85.25L318.12,85.41L318.83,85.58L319.53,85.76L320.23,85.93L320.94,86.12L321.64,86.30L322.33,86.49L323.03,86.68L323.72,86.88L324.42,87.08L325.11,87.29L325.80,87.52L326.48,87.74L327.17,87.98L327.85,88.22L328.53,88.46L329.22,88.70L329.90,88.94L330.58,89.18L331.27,89.42L331.95,89.66L332.63,89.90L333.32,90.14L334.00,90.38L334.68,90.62L335.36,90.86L336.04,91.10L336.72,91.35L337.40,91.60L338.08,91.85L338.76,92.10L339.44,92.35L340.12,92.60L340.80,92.85L341.48,93.10L342.16,93.36L342.84,93.61L343.51,93.88L344.18,94.14L344.85,94.41L345.52,94.69L346.19,94.97L346.84,95.27L347.50,95.57L348.15,95.89L348.79,96.22L349.43,96.56L350.07,96.90L350.71,97.24L351.34,97.59L351.98,97.93L352.63,98.26L353.27,98.59L353.92,98.91L354.57,99.22L355.23,99.54L355.88,99.85L356.53,100.16L357.19,100.47L357.85,100.78L358.51,101.08L359.17,101.37L359.83,101.66L360.50,101.94L361.17,102.21L361.84,102.47L362.51,102.72L363.19,102.97L363.88,103.20L364.56,103.44L365.25,103.67L365.94,103.89L366.63,104.12L367.32,104.34L368.01,104.56L368.70,104.78L369.39,105.00L370.08,105.22L370.77,105.43L371.46,105.65L372.15,105.86L372.84,106.08L373.53,106.29L374.23,106.49L374.92,106.70L375.61,106.91L376.31,107.11L377.00,107.31L377.70,107.51L378.39,107.71L379.09,107.90L379.79,108.08L380.49,108.26L381.19,108.45L381.90,108.63L382.59,108.82L383.29,109.01L383.99,109.21L384.68,109.41L385.37,109.62L386.06,109.84L386.75,110.07L387.43,110.30L388.12,110.53L388.80,110.78L389.49,111.02L390.17,111.28L390.84,111.54L391.52,111.80L392.18,112.07L392.85,112.35L393.51,112.64L394.17,112.93L394.82,113.24L395.47,113.57L396.11,113.90L396.75,114.23L397.39,114.57L398.03,114.92L398.67,115.27L399.30,115.61L399.94,115.96L400.58,116.30L401.22,116.64L401.85,116.98L402.49,117.33L403.12,117.68L403.76,118.03L404.39,118.38L405.02,118.73L405.65,119.08L406.29,119.43L406.92,119.78L407.56,120.12L408.20,120.47L408.84,120.81L409.48,121.14L410.12,121.48L410.76,121.82L411.40,122.15L412.04,122.49L412.68,122.82L413.32,123.16L413.96,123.50L414.60,123.84L415.24,124.18L415.87,124.53L416.50,124.88L417.14,125.23L417.77,125.58L418.40,125.93L419.04,126.28L419.67,126.63L420.30,126.98L420.94,127.33L421.58,127.67L422.21,128.01L422.85,128.34L423.50,128.68L424.14,129.01L424.78,129.34L425.43,129.67L426.07,130.00L426.72,130.32L427.37,130.65L428.01,130.97L428.66,131.29L429.31,131.61L429.96,131.92L430.62,132.23L431.28,132.53L431.94,132.83L432.60,133.13L433.26,133.43L433.92,133.73L434.58,134.03L435.23,134.34L435.88,134.66L436.52,134.99L437.15,135.34L437.77,135.70L438.39,136.07L439.01,136.45L439.62,136.83L440.23,137.23L440.83,137.63L441.44,138.04L442.04,138.44L442.64,138.85L443.24,139.26L443.83,139.66L444.43,140.07L445.02,140.48L445.62,140.90L446.21,141.32L446.80,141.74L447.39,142.16L447.97,142.58L448.56,143.01L449.14,143.44L449.72,143.87L450.30,144.30L450.88,144.74L451.46,145.17L452.04,145.60L452.62,146.04L453.20,146.48L453.77,146.92L454.35,147.36L454.92,147.81L455.48,148.26L456.04,148.72L456.59,149.18L457.14,149.66L457.67,150.14L458.21,150.62L458.73,151.12L459.25,151.62L459.77,152.13L460.28,152.64L460.79,153.16L461.29,153.68L461.79,154.21L462.29,154.74L462.78,155.27L463.27,155.80L463.75,156.34L464.22,156.88L464.70,157.43L465.16,157.98L465.63,158.54L466.09,159.10L466.55,159.65L467.01,160.21L467.47,160.77L467.93,161.33L468.39,161.89L468.85,162.45L469.30,163.02L469.75,163.59L470.20,164.16L470.64,164.74L471.08,165.31L471.53,165.88L471.98,166.45L472.44,167.01L472.90,167.57L473.37,168.11L473.85,168.64L474.35,169.17L474.84,169.70L475.35,170.22L475.86,170.74L476.38,171.26L476.91,171.77L477.44,172.26L477.99,172.74L478.54,173.20L479.11,173.64L479.68,174.06L480.27,174.48L480.87,174.92L481.49,175.36L482.11,175.79L482.75,176.18L483.40,176.53L484.06,176.81L484.72,177.01L485.40,177.13L486.09,177.21L486.80,177.27L487.53,177.33L488.26,177.39L488.99,177.43L489.73,177.46L490.46,177.49L491.19,177.51L491.93,177.52L492.69,177.53L493.44,177.54L494.19,177.55L494.91,177.56L495.61,177.58L496.27,177.60L496.90,177.68L497.52,177.92L498.13,178.30L498.72,178.79L499.29,179.35L499.83,179.96L500.33,180.58L500.79,181.18L501.20,181.74L501.59,182.31L501.95,182.92L502.29,183.54L502.62,184.19L502.93,184.86L503.22,185.54L503.51,186.23L503.78,186.92L504.05,187.61L504.31,188.30L504.57,188.97L504.82,189.65L505.06,190.33L505.30,191.01L505.53,191.69L505.76,192.38L505.98,193.07L506.19,193.77L506.40,194.46L506.61,195.16L506.81,195.85L507.01,196.55L507.21,197.25L507.40,197.94L507.59,198.64L507.78,199.34L507.97,200.04L508.15,200.74L508.34,201.44L508.52,202.14L508.70,202.84L508.87,203.54L509.05,204.25L509.22,204.95L509.38,205.65L509.55,206.36L509.71,207.06L509.87,207.77L510.03,208.48L510.18,209.19L510.33,209.89L510.48,210.60L510.62,211.31L510.76,212.02L510.90,212.73L511.04,213.44L511.17,214.15L511.30,214.86L511.43,215.57L511.56,216.28L511.68,217.00L511.81,217.71L511.93,218.42L512.05,219.14L512.17,219.85L512.28,220.57L512.40,221.28L512.51,222.00L512.62,222.71L512.73,223.43L512.84,224.14L512.95,224.86L513.05,225.57L513.16,226.29L513.26,227.01L513.36,227.72L513.45,228.44L513.55,229.16L513.64,229.87L513.73,230.59L513.82,231.31L513.91,232.03L514.00,232.74L514.09,233.46L514.17,234.18L514.26,234.90L514.34,235.62L514.43,236.34L514.52,237.06L514.60,237.78L514.69,238.49L514.78,239.21L514.87,239.93L514.96,240.65L515.05,241.37L515.14,242.08L515.23,242.80L515.33,243.52L515.42,244.24L515.51,244.95L515.61,245.67L515.70,246.39L515.80,247.10L515.89,247.82L515.99,248.54L516.09,249.26L516.18,249.97L516.28,250.69L516.37,251.41L516.47,252.13L516.56,252.84L516.66,253.56L516.75,254.28L516.84,255.00L516.94,255.71L517.03,256.43L517.12,257.15L517.21,257.87L517.30,258.58L517.39,259.30L517.47,260.02L517.56,260.74L517.65,261.46L517.73,262.18L517.82,262.89L517.90,263.61L517.98,264.33L518.07,265.05L518.15,265.77L518.23,266.49L518.32,267.21L518.40,267.93L518.48,268.64L518.56,269.36L518.65,270.08L518.73,270.80L518.81,271.52L518.90,272.24L518.98,272.96L519.06,273.68L519.15,274.39L519.23,275.11L519.32,275.83L519.41,276.55L519.50,277.27L519.58,277.99L519.67,278.70L519.76,279.42L519.86,280.14L519.95,280.86L520.04,281.57L520.13,282.29L520.23,283.01L520.32,283.73L520.41,284.44L520.51,285.16L520.60,285.88L520.70,286.60L520.79,287.31L520.88,288.03L520.98,288.75L521.07,289.47L521.17,290.18L521.26,290.90L521.35,291.62L521.45,292.34L521.54,293.05L521.63,293.77L521.72,294.49L521.81,295.21L521.90,295.92L521.99,296.64L522.08,297.36L522.17,298.08L522.25,298.80L522.34,299.52L522.42,300.23L522.51,300.95L522.59,301.67L522.67,302.39L522.76,303.11L522.84,303.83L522.92,304.55L523.01,305.27L523.09,305.99L523.18,306.70L523.26,307.42L523.34,308.14L523.43,308.86L523.52,309.58L523.61,310.30L523.69,311.01L523.78,311.73L523.88,312.45L523.97,313.17L524.06,313.88L524.16,314.60L524.26,315.32L524.36,316.03L524.46,316.75L524.56,317.47L524.67,318.18L524.78,318.90L524.88,319.61L524.99,320.33L525.10,321.04L525.22,321.76L525.33,322.47L525.44,323.19L525.56,323.90L525.67,324.62L525.79,325.33L525.90,326.04L526.02,326.76L526.13,327.47L526.24,328.19L526.36,328.90L526.47,329.62L526.58,330.33L526.70,331.05L526.81,331.76L526.92,332.48L527.03,333.19L527.13,333.91L527.24,334.62L527.35,335.34L527.46,336.06L527.57,336.77L527.69,337.49L527.80,338.20L527.91,338.92L528.03,339.63L528.14,340.34L528.26,341.06L528.38,341.77L528.50,342.48L528.63,343.20L528.76,343.91L528.88,344.62L529.02,345.33L529.14,346.05L529.27,346.76L529.40,347.48L529.53,348.21L529.66,348.93L529.79,349.65L529.93,350.36L530.07,351.08L530.22,351.79L530.38,352.50L530.54,353.20L530.72,353.89L530.90,354.58L531.10,355.26L531.31,355.94L531.55,356.67L531.82,357.47L532.11,358.32L532.44,359.16L532.78,359.96L533.15,360.67L533.54,361.26L533.94,361.68L534.36,361.88L534.81,361.83L535.37,361.49L535.97,360.96L536.56,360.32L537.06,359.67L537.42,359.09L537.72,358.49L538.00,357.87L538.25,357.21L538.49,356.53L538.71,355.84L538.91,355.12L539.10,354.40L539.29,353.67L539.46,352.93L539.64,352.20L539.81,351.47L539.98,350.76L540.16,350.06L540.34,349.36L540.51,348.65L540.67,347.95L540.84,347.25L540.99,346.54L541.15,345.83L541.30,345.12L541.45,344.42L541.60,343.71L541.74,343.00L541.88,342.29L542.02,341.58L542.16,340.86L542.30,340.15L542.43,339.44L542.57,338.73L542.70,338.02L542.83,337.31L542.96,336.60L543.08,335.88L543.20,335.17L543.32,334.46L543.44,333.74L543.56,333.03L543.67,332.32L543.79,331.60L543.91,330.89L544.02,330.17L544.14,329.46L544.26,328.74L544.37,328.03L544.49,327.32L544.61,326.60L544.74,325.89L544.86,325.18L544.98,324.46L545.11,323.75L545.23,323.04L545.36,322.33L545.49,321.61L545.61,320.90L545.74,320.19L545.87,319.48L545.99,318.76L546.12,318.05L546.25,317.34L546.37,316.63L546.50,315.91L546.62,315.20L546.74,314.49L546.87,313.78L546.99,313.06L547.11,312.35L547.23,311.64L547.36,310.92L547.48,310.21L547.60,309.50L547.73,308.78L547.85,308.07L547.97,307.36L548.09,306.64L548.21,305.93L548.33,305.22L548.45,304.50L548.56,303.79L548.68,303.07L548.79,302.36L548.89,301.64L549.00,300.93L549.10,300.21L549.19,299.49L549.29,298.78L549.38,298.06L549.47,297.34L549.56,296.63L549.65,295.91L549.74,295.19L549.82,294.47L549.91,293.75L549.99,293.03L550.07,292.31L550.16,291.59L550.24,290.88L550.32,290.16L550.41,289.44L550.49,288.72L550.57,288.00L550.66,287.28L550.74,286.56L550.83,285.84L550.92,285.13L551.01,284.41L551.10,283.69L551.19,282.97L551.29,282.26L551.38,281.54L551.48,280.82L551.57,280.10L551.67,279.39L551.77,278.67L551.87,277.95L551.97,277.24L552.07,276.52L552.17,275.80L552.27,275.09L552.38,274.37L552.48,273.66L552.58,272.94L552.69,272.22L552.79,271.51L552.90,270.79L553.00,270.08L553.11,269.36L553.22,268.64L553.32,267.93L553.43,267.21L553.54,266.50L553.65,265.78L553.76,265.07L553.87,264.35L553.98,263.64L554.09,262.92L554.20,262.21L554.31,261.49L554.42,260.78L554.54,260.06L554.65,259.35L554.76,258.63L554.88,257.92L554.99,257.21L555.11,256.49L555.23,255.78L555.35,255.06L555.46,254.35L555.58,253.64L555.71,252.92L555.83,252.21L555.95,251.50L556.07,250.78L556.20,250.07L556.33,249.36L556.46,248.65L556.59,247.94L556.72,247.22L556.85,246.51L556.98,245.80L557.12,245.09L557.25,244.38L557.39,243.67L557.52,242.96L557.65,242.25L557.78,241.53L557.91,240.82L558.04,240.11L558.17,239.40L558.29,238.69L558.42,237.97L558.55,237.26L558.68,236.55L558.81,235.84L558.95,235.13L559.08,234.41L559.21,233.70L559.35,232.98L559.48,232.27L559.62,231.55L559.76,230.84L559.90,230.13L560.05,229.42L560.20,228.71L560.36,228.01L560.54,227.31L560.72,226.61L560.91,225.92L561.11,225.24L561.33,224.55L561.58,223.87L561.84,223.19L562.12,222.51L562.41,221.84L562.72,221.18L563.04,220.53L563.37,219.89L563.71,219.26L564.06,218.63L564.43,217.98L564.82,217.32L565.23,216.67L565.66,216.06L566.12,215.49L566.60,214.98L567.12,214.56L567.68,214.19L568.33,213.82L569.03,213.50L569.74,213.28L570.45,213.20L571.16,213.24L571.88,213.35L572.61,213.50L573.33,213.68L574.01,213.87L574.66,214.11L575.28,214.45L575.89,214.85L576.49,215.30L577.08,215.76L577.66,216.20L578.24,216.63L578.81,217.09L579.36,217.56L579.91,218.04L580.46,218.52L581.01,218.99L581.57,219.44L582.15,219.87L582.75,220.26L583.36,220.66L583.99,221.05L584.62,221.44L585.27,221.79L585.92,222.10L586.59,222.36L587.27,222.54L587.96,222.70L588.67,222.85L589.39,222.98L590.12,223.08L590.85,223.16L591.57,223.20L592.28,223.18L592.99,223.11L593.69,222.98L594.39,222.81L595.10,222.61L595.80,222.39L596.50,222.17L597.20,221.95L597.91,221.76L598.62,221.60L599.32,221.45L600.03,221.28L600.74,221.11L601.45,220.95L602.17,220.78L602.88,220.63L603.59,220.49L604.31,220.37L605.02,220.28L605.74,220.22L606.45,220.20L607.17,220.21L607.89,220.23L608.62,220.28L609.34,220.33L610.07,220.40L610.79,220.48L611.51,220.56L612.23,220.66L612.95,220.75L613.66,220.85L614.37,220.96L615.07,221.09L615.78,221.24L616.48,221.42L617.18,221.62L617.88,221.83L618.57,222.06L619.26,222.30L619.95,222.54L620.63,222.79L621.31,223.04L621.99,223.29L622.66,223.55L623.32,223.82L623.99,224.11L624.65,224.41L625.31,224.72L625.96,225.03L626.61,225.36L627.26,225.69L627.90,226.02L628.54,226.36L629.18,226.70L629.81,227.04L630.45,227.39L631.08,227.74L631.70,228.10L632.33,228.47L632.95,228.84L633.56,229.22L634.18,229.61L634.79,230.00L635.40,230.40L636.00,230.80" stroke="#00ff00" stroke-width="0.88" stroke-dasharray="5.0 3.25" stroke-dashoffset="7.15"/>
<path d="M75.50,54.00L76.50,53.96L77.50,53.92L78.50,53.88L79.50,53.84L80.50,53.80L81.50,53.76L82.50,53.72L83.50,53.67L84.50,53.63L85.50,53.58L86.50,53.54L87.50,53.49L88.50,53.44L89.50,53.40L90.50,53.35L91.50,53.30L92.50,53.25L93.50,53.21L94.50,53.16L95.50,53.11L96.50,53.06L97.50,53.02L98.50,52.97L99.50,52.92L100.50,52.88L101.50,52.83L102.50,52.79L103.50,52.74L104.50,52.70L105.50,52.65L106.50,52.61L107.50,52.57L108.50,52.53L109.50,52.49L110.50,52.45L111.50,52.41L112.50,52.38L113.50,52.34L114.50,52.31L115.50,52.27L116.50,52.24L117.50,52.21L118.50,52.19L119.50,52.16L120.50,52.14L121.50,52.11L122.50,52.09L123.50,52.07L124.50,52.06L125.50,52.04L126.50,52.03L127.50,52.02L128.50,52.01L129.50,52.00L130.50,52.00L131.50,51.99L132.50,51.99L133.50,52.00L134.50,52.00L135.50,52.01L136.50,52.02L137.50,52.03L138.50,52.05L139.50,52.06L140.50,52.08L141.50,52.10L142.50,52.13L143.50,52.15L144.50,52.18L145.50,52.20L146.50,52.23L147.50,52.26L148.50,52.30L149.50,52.33L150.50,52.36L151.50,52.40L152.50,52.44L153.50,52.48L154.50,52.52L155.50,52.56L156.50,52.60L157.50,52.65L158.50,52.70L159.50,52.75L160.50,52.80L161.50,52.85L162.50,52.91L163.50,52.96L164.50,53.02L165.50,53.08L166.50,53.15L167.50,53.21L168.50,53.28L169.50,53.35L170.50,53.43L171.50,53.50L172.50,53.58L173.50,53.67L174.50,53.75L175.50,53.84L176.50,53.94L177.50,54.04L178.50,54.14L179.50,54.25L180.50,54.36L181.50,54.47L182.50,54.59L183.50,54.71L184.50,54.84L185.50,54.97L186.50,55.11L187.50,55.24L188.50,55.38L189.50,55.53L190.50,55.67L191.50,55.82L192.50,55.97L193.50,56.12L194.50,56.28L195.50,56.43L196.50,56.59L197.50,56.75L198.50,56.91L199.50,57.07L200.50,57.24L201.50,57.40L202.50,57.57L203.50,57.74L204.50,57.90L205.50,58.07L206.50,58.24L207.50,58.41L208.50,58.58L209.50,58.75L210.50,58.92L211.50,59.10L212.50,59.27L213.50,59.44L214.50,59.61L215.50,59.78L216.50,59.95L217.50,60.13L218.50,60.30L219.50,60.47L220.50,60.64L221.50,60.81L222.50,60.98L223.50,61.15L224.50,61.32L225.50,61.49L226.50,61.66L227.50,61.83L228.50,62.00L229.50,62.17L230.50,62.34L231.50,62.51L232.50,62.68L233.50,62.84L234.50,63.01L235.50,63.18L236.50,63.34L237.50,63.51L238.50,63.68L239.50,63.84L240.50,64.01L241.50,64.18L242.50,64.34L243.50,64.51L244.50,64.68L245.50,64.85L246.50,65.01L247.50,65.18L248.50,65.35L249.50,65.52L250.50,65.68L251.50,65.85L252.50,66.02L253.50,66.19L254.50,66.36L255.50,66.53L256.50,66.69L257.50,66.86L258.50,67.02L259.50,67.19L260.50,67.35L261.50,67.51L262.50,67.67L263.50,67.83L264.50,67.99L265.50,68.14L266.50,68.29L267.50,68.44L268.50,68.59L269.50,68.73L270.50,68.87L271.50,69.01L272.50,69.14L273.50,69.27L274.50,69.40L275.50,69.53L276.50,69.66L277.50,69.78L278.50,69.90L279.50,70.02L280.50,70.14L281.50,70.26L282.50,70.37L283.50,70.48L284.50,70.59L285.50,70.70L286.50,70.81L287.50,70.92L288.50,71.03L289.50,71.14L290.50,71.24L291.50,71.35L292.50,71.47L293.50,71.58L294.50,71.71L295.50,71.83L296.50,71.97L297.50,72.11L298.50,72.26L299.50,72.42L300.50,72.59L301.50,72.77L302.50,72.95L303.50,73.15L304.50,73.35L305.50,73.55L306.50,73.76L307.50,73.97L308.50,74.19L309.50,74.40L310.50,74.60L311.50,74.81L312.50,75.02L313.50,75.23L314.50,75.44L315.50,75.66L316.50,75.89L317.50,76.13L318.50,76.39L319.50,76.66L320.50,76.94L321.50,77.24L322.50,77.56L323.50,77.88L324.50,78.21L325.50,78.55L326.50,78.89L327.50,79.23L328.50,79.57L329.50,79.90L330.50,80.23L331.50,80.56L332.50,80.88L333.50,81.21L334.50,81.53L335.50,81.85L336.50,82.17L337.50,82.49L338.50,82.81L339.50,83.13L340.50,83.46L341.50,83.78L342.50,84.10L343.50,84.42L344.50,84.73L345.50,85.05L346.50,85.36L347.50,85.66L348.50,85.96L349.50,86.25L350.50,86.54L351.50,86.82L352.50,87.09L353.50,87.35L354.50,87.61L355.50,87.85L356.50,88.08L357.50,88.30L358.50,88.50L359.50,88.70L360.50,88.89L361.50,89.07L362.50,89.24L363.50,89.40L364.50,89.57L365.50,89.72L366.50,89.87L367.50,90.03L368.50,90.18L369.50,90.33L370.50,90.48L371.50,90.63L372.50,90.78L373.50,90.93L374.50,91.09L375.50,91.25L376.50,91.40L377.50,91.56L378.50,91.72L379.50,91.88L380.50,92.05L381.50,92.21L382.50,92.39L383.50,92.58L384.50,92.79L385.50,93.02L386.50,93.27L387.50,93.55L388.50,93.87L389.50,94.21L390.50,94.59L391.50,95.00L392.50,95.42L393.50,95.87L394.50,96.32L395.50,96.77L396.50,97.23L397.50,97.68L398.50,98.12L399.50,98.54L400.50,98.96L401.50,99.36L402.50,99.76L403.50,100.15L404.50,100.53L405.50,100.92L406.50,101.30L407.50,101.68L408.50,102.06L409.50,102.44L410.50,102.81L411.50,103.18L412.50,103.54L413.50,103.90L414.50,104.24L415.50,104.56L416.50,104.87L417.50,105.16L418.50,105.43L419.50,105.69L420.50,105.93L421.50,106.16L422.50,106.37L423.50,106.58L424.50,106.78L425.50,106.97L426.50,107.16L427.50,107.34L428.50,107.53L429.50,107.71L430.50,107.89L431.50,108.08L432.50,108.27L433.50,108.47L434.50,108.67L435.50,108.88L436.50,109.11L437.50,109.34L438.50,109.59L439.50,109.85L440.50,110.13L441.50,110.43L442.50,110.73L443.50,111.05L444.50,111.38L445.50,111.71L446.50,112.06L447.50,112.41L448.50,112.76L449.50,113.12L450.50,113.49L451.50,113.85L452.50,114.22L453.50,114.59L454.50,114.97L455.50,115.35L456.50,115.73L457.50,116.11L458.50,116.49L459.50,116.88L460.50,117.26L461.50,117.65L462.50,118.03L463.50,118.41L464.50,118.78L465.50,119.15L466.50,119.51L467.50,119.87L468.50,120.22L469.50,120.56L470.50,120.90L471.50,121.24L472.50,121.57L473.50,121.91L474.50,122.26L475.50,122.61L476.50,122.96L477.50,123.33L478.50,123.71L479.50,124.10L480.50,124.49L481.50,124.89L482.50,125.30L483.50,125.71L484.50,126.12L485.50,126.53L486.50,126.95L487.50,127.37L488.50,127.78L489.50,128.19L490.50,128.60L491.50,129.01L492.50,129.41L493.50,129.81L494.50,130.21L495.50,130.60L496.50,130.99L497.50,131.38L498.50,131.77L499.50,132.15L500.50,132.54L501.50,132.92L502.50,133.30L503.50,133.68L504.50,134.05L505.50,134.43L506.50,134.81L507.50,135.19L508.50,135.56L509.50,135.94L510.50,136.32L511.50,136.69L512.50,137.07L513.50,137.45L514.50,137.83L515.50,138.20L516.50,138.58L517.50,138.96L518.50,139.33L519.50,139.71L520.50,140.08L521.50,140.45L522.50,140.83L523.50,141.20L524.50,141.57L525.50,141.94L526.50,142.31L527.50,142.67L528.50,143.04L529.50,143.40L530.50,143.77L531.50,144.13L532.50,144.49L533.50,144.85L534.50,145.21L535.50,145.57L536.50,145.93L537.50,146.30L538.50,146.66L539.50,147.02L540.50,147.38L541.50,147.75L542.50,148.11L543.50,148.48L544.50,148.84L545.50,149.21L546.50,149.58L547.50,149.96L548.50,150.33L549.50,150.71L550.50,151.09L551.50,151.47L552.50,151.86L553.50,152.24L554.50,152.63L555.50,153.02L556.50,153.42L557.50,153.81L558.50,154.20L559.50,154.60L560.50,154.99L561.50,155.39L562.50,155.79L563.50,156.18L564.50,156.58L565.50,156.98L566.50,157.37L567.50,157.77L568.50,158.16L569.50,158.55L570.50,158.95L571.50,159.34L572.50,159.73L573.50,160.11L574.50,160.50L575.50,160.89L576.50,161.27L577.50,161.66L578.50,162.04L579.50,162.43L580.50,162.81L581.50,163.19L582.50,163.57L583.50,163.96L584.50,164.34L585.50,164.72L586.50,165.10L587.50,165.48L588.50,165.85L589.50,166.23L590.50,166.61L591.50,166.99L592.50,167.37L593.50,167.75L594.50,168.13L595.50,168.51L596.50,168.89L597.50,169.27L598.50,169.65L599.50,170.03L600.50,170.41L601.50,170.79L602.50,171.17L603.50,171.56L604.50,171.94L605.50,172.33L606.50,172.71L607.50,173.10L608.50,173.49L609.50,173.88L610.50,174.27L611.50,174.66L612.50,175.06L613.50,175.45L614.50,175.85L615.50,176.25L616.50,176.64L617.50,177.04L618.50,177.44L619.50,177.84L620.50,178.25L621.50,178.65L622.50,179.05L623.50,179.46L624.50,179.86L625.50,180.27L626.50,180.67L627.50,181.08L628.50,181.49L629.50,181.90L630.50,182.30L631.50,182.71L632.50,183.12L633.50,183.53L634.50,183.94L635.50,184.35" stroke="#ff0000" stroke-width="2.2" stroke-linejoin="round"/>
</g>
<g fill="none" stroke="#000">
<path d="M77.0,25.5H635.0" stroke-opacity="0.36"/>
<path d="M77.0,369.5H635.0" stroke-opacity="0.29"/>
<path d="M77.5,26.0V369.0" stroke-opacity="0.42"/>
<path d="M634.5,26.0V369.0" stroke-opacity="0.46"/>
<path d="M161.21,369.0v-3.7M161.21,26.0v3.7M271.99,369.0v-3.7M271.99,26.0v3.7M355.80,369.0v-3.7M355.80,26.0v3.7M439.61,369.0v-3.7M439.61,26.0v3.7M550.39,369.0v-3.7M550.39,26.0v3.7M78.0,74.40h3.7M634.0,74.40h-3.7M78.0,172.80h3.7M634.0,172.80h-3.7M78.0,271.20h3.7M634.0,271.20h-3.7" stroke-width="1" stroke-opacity="0.5"/>
<path d="M210.23,369.5v-1.9M210.23,25.5v1.9M245.01,369.5v-1.9M245.01,25.5v1.9M294.04,369.5v-1.9M294.04,25.5v1.9M312.68,369.5v-1.9M312.68,25.5v1.9M328.82,369.5v-1.9M328.82,25.5v1.9M343.06,369.5v-1.9M343.06,25.5v1.9M488.63,369.5v-1.9M488.63,25.5v1.9M523.41,369.5v-1.9M523.41,25.5v1.9M572.44,369.5v-1.9M572.44,25.5v1.9M591.08,369.5v-1.9M591.08,25.5v1.9M607.22,369.5v-1.9M607.22,25.5v1.9M621.46,369.5v-1.9M621.46,25.5v1.9M77.5,76.89h1.9M634.5,76.89h-1.9M77.5,79.71h1.9M634.5,79.71h-1.9M77.5,82.96h1.9M634.5,82.96h-1.9M77.5,86.79h1.9M634.5,86.79h-1.9M77.5,91.46h1.9M634.5,91.46h-1.9M77.5,97.45h1.9M634.5,97.45h-1.9M77.5,105.80h1.9M634.5,105.80h-1.9M77.5,119.70h1.9M634.5,119.70h-1.9M77.5,175.29h1.9M634.5,175.29h-1.9M77.5,178.11h1.9M634.5,178.11h-1.9M77.5,181.36h1.9M634.5,181.36h-1.9M77.5,185.19h1.9M634.5,185.19h-1.9M77.5,189.86h1.9M634.5,189.86h-1.9M77.5,195.85h1.9M634.5,195.85h-1.9M77.5,204.20h1.9M634.5,204.20h-1.9M77.5,218.10h1.9M634.5,218.10h-1.9M77.5,273.69h1.9M634.5,273.69h-1.9M77.5,276.51h1.9M634.5,276.51h-1.9M77.5,279.76h1.9M634.5,279.76h-1.9M77.5,283.59h1.9M634.5,283.59h-1.9M77.5,288.26h1.9M634.5,288.26h-1.9M77.5,294.25h1.9M634.5,294.25h-1.9M77.5,302.60h1.9M634.5,302.60h-1.9M77.5,316.50h1.9M634.5,316.50h-1.9" stroke-width="1.3" stroke-opacity="0.78"/>
</g>
<g fill="none">
<path d="M160.1,224.3H272.8" stroke="#ff0000" stroke-width="2.3"/>
<path d="M160.6,256.5H272.8" stroke="#0000ff" stroke-width="0.8" stroke-dasharray="1.8 3.37"/>
<path d="M160.6,286H272.8" stroke="#00ff00" stroke-width="0.8" stroke-dasharray="11.3 12.45"/>
<path d="M160.6,320.4H272.8" stroke="#0000ff" stroke-width="0.8" stroke-dasharray="1.8 3.25 5.1 3.25"/>
<path d="M160.6,354.5H272.8" stroke="#00ff00" stroke-width="0.8" stroke-dasharray="5.0 3.25"/>
</g>
<g class="tl" text-anchor="middle">
<text transform="translate(161.2,389.6)">0.02</text>
<text transform="translate(272.0,389.6)">0.05</text>
<text transform="translate(355.8,389.6)">0.10</text>
<text transform="translate(439.6,389.6)">0.20</text>
<text transform="translate(550.4,389.6)">0.50</text>
<text transform="translate(635.1,389.6)">1.00</text>
</g>
<g class="tl" text-anchor="end">
<text transform="translate(73.4,83.1)">10<tspan dy="-8.7" font-size="15.8px">4</tspan></text>
<text transform="translate(74.1,178.8)">100</text>
<text transform="translate(73.5,277.0)">1</text>
<text transform="translate(73.5,375.8)">0.01</text>
</g>
<text x="355.4" y="422.8" text-anchor="middle" font-size="23px">k (h Mpc<tspan dy="-9.6" font-size="16.3px">−1</tspan><tspan dy="9.6">)</tspan></text>
<text transform="translate(21.3,269.4) rotate(-90)" font-size="23px">P(k) (<tspan dx="-0.5" font-style="italic">h</tspan><tspan dx="-1.4" dy="-9.6" font-size="16.3px">−</tspan><tspan dx="0.5" font-size="16.3px">3</tspan><tspan dx="0.4" dy="9.6"> Mpc</tspan><tspan dy="-9.6" font-size="16.3px">3</tspan><tspan dx="0.4" dy="9.6">)</tspan></text>
<g class="lg">
<text x="293.8" y="227.6">ΛCDM</text>
<text x="293.8" y="259.5">Δ<tspan dx="0.4">N</tspan><tspan dx="-0.6" dy="2.5" font-size="10.7px">eff</tspan><tspan dx="1.3" dy="-2.5">=</tspan><tspan dx="1.4">1</tspan></text>
<text x="293.8" y="289.2">Δ<tspan dx="0.4">N</tspan><tspan dx="-0.6" dy="2.5" font-size="10.7px">eff</tspan><tspan dx="1.3" dy="-2.5">=</tspan><tspan dx="1.4">3</tspan></text>
<text x="294.0" y="325.7">Δ<tspan dx="0.4">N</tspan><tspan dx="-0.6" dy="2.5" font-size="10.7px">eff</tspan><tspan dx="1.3" dy="-2.5">=</tspan><tspan dx="1.4">1</tspan>, <tspan dx="-0.9" font-style="italic">Q</tspan><tspan dy="2.5" font-size="10.7px">0</tspan><tspan dx="1.6" dy="-2.5">=</tspan><tspan dx="1.35">10</tspan><tspan dx="0.5" dy="-6.0" font-size="10.2px">−</tspan><tspan dx="0.25" font-size="10.2px">32</tspan><tspan dx="-0.6" dy="6.0">cm</tspan><tspan dx="0.2" dy="-6.0" font-size="10.2px">2</tspan><tspan dx="0.3" dy="6.0">MeV</tspan><tspan dx="0.9" dy="-6.0" font-size="10.2px">−</tspan><tspan dx="0.2" font-size="10.2px">1</tspan></text>
<text x="294.0" y="360.0">Δ<tspan dx="0.4">N</tspan><tspan dx="-0.6" dy="2.5" font-size="10.7px">eff</tspan><tspan dx="1.3" dy="-2.5">=</tspan><tspan dx="1.4">3</tspan>, <tspan dx="-0.9" font-style="italic">Q</tspan><tspan dy="2.5" font-size="10.7px">0</tspan><tspan dx="1.6" dy="-2.5">=</tspan><tspan dx="1.35">10</tspan><tspan dx="0.5" dy="-6.0" font-size="10.2px">−</tspan><tspan dx="0.25" font-size="10.2px">32</tspan><tspan dx="-0.6" dy="6.0">cm</tspan><tspan dx="0.2" dy="-6.0" font-size="10.2px">2</tspan><tspan dx="0.3" dy="6.0">MeV</tspan><tspan dx="0.9" dy="-6.0" font-size="10.2px">−</tspan><tspan dx="0.2" font-size="10.2px">1</tspan></text>
</g>
</svg>
</body></html>
